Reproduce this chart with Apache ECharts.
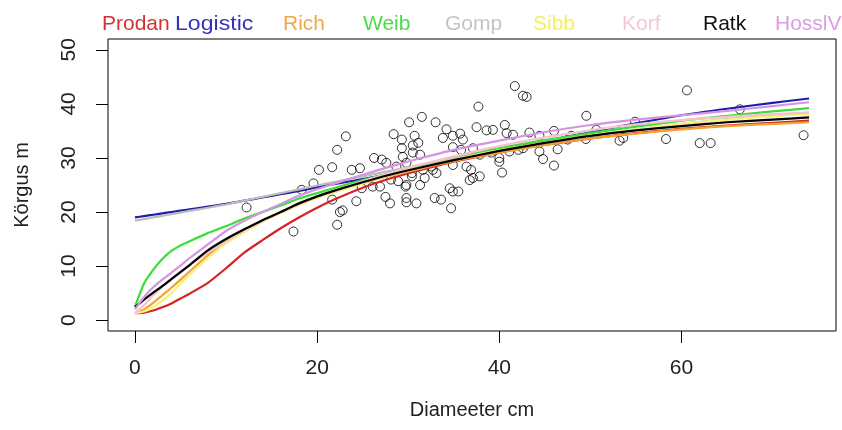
<!DOCTYPE html>
<html>
<head>
<meta charset="utf-8">
<script src="https://cdn.jsdelivr.net/npm/echarts@6/dist/echarts.min.js"></script>
<style>html,body{margin:0;padding:0;background:#fff;}#c{width:842px;height:430px;}</style>
</head>
<body>
<div id="c"></div>
<script>
// ---- data ----
const diam = [12.25,17.4,18.3,19.6,20.2,21.65,21.65,22.2,22.5,22.8,22.2,23.15,23.8,24.3,24.7,24.9,26.1,26.25,26.9,27.1,27.5,27.6,28.0,28.1,28.4,28.7,28.9,29.3,29.3,29.4,29.7,29.8,29.8,29.8,29.8,30.1,30.4,30.4,30.5,30.5,30.7,30.9,31.1,31.3,31.3,31.5,31.6,31.8,32.55,32.7,32.9,33.0,33.1,33.6,33.8,34.2,34.55,34.7,34.9,34.9,34.9,34.9,35.5,35.7,35.8,36.0,36.4,36.75,36.9,37.1,37.1,37.5,37.7,37.85,37.85,38.6,39.1,39.3,40.0,40.0,40.3,40.6,40.8,41.1,41.5,41.7,42.1,42.6,42.6,43.0,43.3,44.4,44.4,44.8,46.0,46.0,46.4,47.5,47.9,49.5,49.55,50.65,53.2,53.6,54.9,58.3,60.6,62.0,63.2,66.4,73.4];
const height = [20.85,16.4,24.1,25.3,27.8,28.3,22.3,17.65,20.0,20.3,31.5,34.0,27.8,22.0,28.1,24.4,24.7,30.0,24.7,29.7,22.8,29.1,21.6,26.0,34.4,28.4,25.7,33.4,31.8,30.2,24.7,25.0,29.1,22.6,21.8,36.6,27.2,26.6,32.3,31.0,34.1,21.6,32.8,30.6,25.0,37.6,27.8,26.3,28.4,27.8,22.6,36.6,27.2,22.3,33.7,35.3,24.4,20.7,34.1,32.0,28.7,23.8,23.8,34.5,31.5,33.4,28.4,25.9,27.8,31.8,26.3,35.7,39.5,30.6,26.6,35.1,31.0,35.2,30.0,29.3,27.3,36.1,34.6,31.2,34.3,43.3,31.5,41.5,31.8,41.3,34.7,34.1,31.2,29.8,35.0,28.6,31.6,33.4,34.1,33.5,37.8,35.2,33.2,33.7,36.7,33.5,42.5,32.75,32.75,39.0,34.2];

const curveD   = [0,1,2,3,4,5,6,8,10,12,14,16,18,20,22,25,28,31,35,40,45,50,55,60,65,70,74];
const prodan   = [1.3,1.4,1.8,2.4,3.1,4.0,4.9,6.9,9.6,12.5,14.8,17.0,19.0,20.8,22.4,24.5,26.2,27.6,29.3,31.0,32.4,33.6,34.6,35.4,36.0,36.5,36.9];
const logistic = [19.0,19.25,19.5,19.75,20.0,20.25,20.5,21.0,21.5,22.1,22.7,23.3,23.9,24.6,25.2,26.1,27.0,28.0,29.5,31.3,33.1,34.8,36.4,37.9,39.1,40.2,41.0];
const rich     = [1.3,2.0,3.2,4.6,6.0,7.5,9.0,12.0,14.5,16.5,18.3,19.9,21.4,22.7,23.8,25.3,26.7,27.9,29.4,31.0,32.4,33.6,34.5,35.3,35.9,36.3,36.6];
const weib     = [2.5,6.8,9.3,11.3,12.8,13.8,14.6,16.1,17.4,18.8,20.0,21.2,22.5,23.5,24.5,25.9,27.2,28.4,30.0,31.8,33.3,34.6,35.8,36.9,37.8,38.6,39.2];
const gomp     = [18.4,18.7,19.0,19.3,19.6,19.9,20.2,20.8,21.4,22.1,22.8,23.5,24.2,24.9,25.6,26.6,27.6,28.6,29.9,31.4,32.8,34.1,35.3,36.3,37.2,37.9,38.4];
const sibb     = [1.3,1.6,2.4,3.6,5.0,6.8,8.4,11.5,14.2,16.3,18.2,19.8,21.3,22.6,23.7,25.3,26.8,28.1,29.7,31.4,32.9,34.2,35.3,36.3,37.1,37.7,38.1];
const korf     = [1.3,2.8,4.6,6.2,7.7,9.0,10.2,12.5,14.6,16.6,18.4,20.0,21.5,22.8,24.0,25.7,27.2,28.6,30.3,32.2,33.8,35.1,36.2,37.0,37.6,38.1,38.4];
const ratk     = [2.4,3.8,5.1,6.3,7.6,8.9,10.2,12.9,15.0,16.8,18.5,20.0,21.6,22.9,24.0,25.5,26.9,28.1,29.6,31.3,32.8,34.1,35.1,35.9,36.6,37.1,37.5];
const hossl    = [2.0,4.3,6.1,7.5,8.8,10.1,11.5,14.0,16.5,18.4,20.0,21.5,23.0,24.2,25.3,26.9,28.4,29.8,31.5,33.2,34.8,36.1,37.1,37.9,38.7,39.6,40.3];

const modelNames = ['Prodan','Logistic','Rich','Weib','Gomp','Sibb','Korf','Ratk','HosslV'];
const modelValues = [prodan,logistic,rich,weib,gomp,sibb,korf,ratk,hossl];
const xTicks = [0,20,40,60];
const yTicks = [0,10,20,30,40,50];

// ---- style ----
const lineColors = ['#d42424','#1e1eaa','#f5a232','#3ade3a','#bcbcbc','#f6f27a','#f7c2cd','#000000','#d494e2'];
const textColors = ['#d03434','#3434b8','#f0a848','#48dc48','#c4c4c4','#f4f060','#f4c8d4','#111111','#d8a0e0'];
const legendX = [102,175,283,363,445,533,622,703,775];
const legendScale = [1,1.1,1,1,1,1,1,1,1];
const FONT = 'Liberation Sans, Arial, sans-serif';

const series = [{
  type:'scatter', name:'obs',
  data: diam.map((d,i)=>[d,height[i]]),
  symbol:'circle', symbolSize:9,
  itemStyle:{color:'rgba(0,0,0,0)', borderColor:'#000', borderWidth:1},
  z:1, silent:true
}];
modelNames.forEach((n,k)=>{
  series.push({
    type:'line', name:n,
    data: curveD.map((d,i)=>[d, modelValues[k][i]]),
    showSymbol:false, smooth:0.2,
    lineStyle:{color:lineColors[k], width:2.2},
    z:2+k, silent:true
  });
});

const chart = echarts.init(document.getElementById('c'), null, {renderer:'canvas'});
chart.setOption({
  animation:false,
  backgroundColor:'#fff',
  grid:{left:108, right:6, top:39, bottom:99, show:true, borderColor:'#000', borderWidth:1, backgroundColor:'transparent'},
  xAxis:{
    type:'value', min:-2.96, max:76.96,
    name:'Diameeter cm', nameLocation:'middle', nameGap:69,
    nameTextStyle:{fontFamily:FONT, fontSize:20, color:'#222'},
    axisLine:{show:false, onZero:false},
    splitLine:{show:false},
    axisTick:{show:true, inside:false, length:12, customValues:xTicks, lineStyle:{color:'#000', width:1}},
    axisLabel:{show:true, customValues:xTicks, margin:27, fontFamily:FONT, fontSize:21, color:'#222'}
  },
  yAxis:{
    type:'value', min:-2, max:52,
    name:'Körgus m', nameLocation:'middle', nameGap:76, nameRotate:90,
    nameTextStyle:{fontFamily:FONT, fontSize:20, color:'#222'},
    axisLine:{show:false, onZero:false},
    splitLine:{show:false},
    axisTick:{show:true, inside:false, length:12, customValues:yTicks, lineStyle:{color:'#000', width:1}},
    axisLabel:{show:true, customValues:yTicks, rotate:90, margin:28, fontFamily:FONT, fontSize:21, color:'#222'}
  },
  graphic: modelNames.map((n,k)=>({
    type:'text', x:legendX[k], y:14, scaleX:legendScale[k],
    style:{text:n, fill:textColors[k], font:'21px '+FONT}
  })),
  series: series
});
</script>
</body>
</html>
